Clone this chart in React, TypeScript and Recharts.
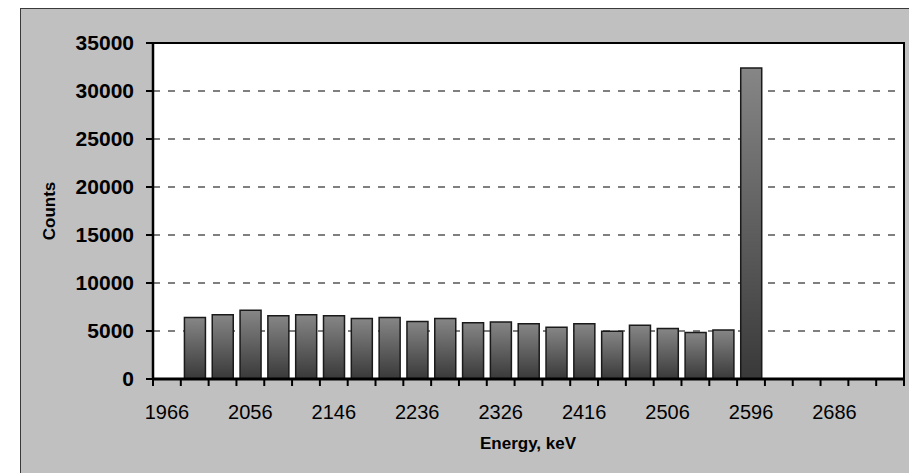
import React from "react";
import { BarChart, Bar, XAxis, YAxis, CartesianGrid, ReferenceArea } from "recharts";

// energy bin centres, keV (30 keV bins)
const energies = [
  "1966", "1996", "2026", "2056", "2086", "2116", "2146", "2176", "2206",
  "2236", "2266", "2296", "2326", "2356", "2386", "2416", "2446", "2476",
  "2506", "2536", "2566", "2596", "2626", "2656", "2686", "2716", "2746",
];

const counts = [
  0, 6400, 6700, 7150, 6600, 6700, 6600, 6300, 6400,
  6000, 6300, 5850, 5950, 5750, 5400, 5750, 4980, 5600,
  5250, 4850, 5100, 32400, 0, 0, 0, 0, 0,
];

const countTicks = [0, 5000, 10000, 15000, 20000, 25000, 30000, 35000];

const data = energies.map((energy, i) => ({ energy, counts: counts[i] }));

const W = 909;
const H = 473;
const margin = { top: 43, right: 5, bottom: 34, left: 93 };
const Y_AXIS_W = 60;
const X_AXIS_H = 60;
const STEP = (W - margin.left - margin.right - Y_AXIS_W) / energies.length;
const FONT = '"Liberation Sans", Arial, sans-serif';

// tick marks sit on bin edges, labels on every third bin centre
const EnergyTick = (props: any) => {
  const { x, y, payload, index } = props;
  const half = STEP / 2;
  const last = index === energies.length - 1;
  return (
    <g>
      <line x1={x - half} x2={x - half} y1={y} y2={y + 7} stroke="#000" strokeWidth={2} />
      {last && <line x1={x + half} x2={x + half} y1={y} y2={y + 7} stroke="#000" strokeWidth={2} />}
      {index % 3 === 0 && (
        <text x={x} y={y + 40} textAnchor="middle" fontSize={20} fontFamily={FONT} fill="#000">
          {payload.value}
        </text>
      )}
    </g>
  );
};

export default function App() {
  return (
    <div style={{ position: "absolute", left: 0, top: 0, width: W, height: H, overflow: "hidden", background: "#fff" }}>
      <div
        style={{
          position: "absolute",
          left: 20,
          top: 8,
          width: 900,
          height: 480,
          background: "#c0c0c0",
          border: "1px solid #3a3a3a",
        }}
      />
      <div style={{ position: "absolute", left: 0, top: 0 }}>
        <BarChart width={W} height={H} data={data} margin={margin} barCategoryGap="13%">
          <defs>
            <linearGradient id="barShade" x1="0" y1="0" x2="0" y2="1">
              <stop offset="0%" stopColor="#868686" />
              <stop offset="100%" stopColor="#393939" />
            </linearGradient>
          </defs>
          <CartesianGrid vertical={false} fill="#fff" stroke="#000" strokeDasharray="7 8" />
          <XAxis
            dataKey="energy"
            interval={0}
            height={X_AXIS_H}
            tickSize={0}
            tickMargin={0}
            tickLine={false}
            axisLine={{ stroke: "#000", strokeWidth: 3 }}
            tick={<EnergyTick />}
          />
          <YAxis
            width={Y_AXIS_W}
            domain={[0, 35000]}
            ticks={countTicks}
            interval={0}
            tickSize={7}
            tickMargin={12}
            axisLine={{ stroke: "#000", strokeWidth: 2.5 }}
            tickLine={{ stroke: "#000", strokeWidth: 2 }}
            tick={{ fontSize: 21, fontWeight: "bold", fontFamily: FONT, fill: "#000" }}
          />
          <ReferenceArea
            x1={energies[0]}
            x2={energies[energies.length - 1]}
            y1={0}
            y2={35000}
            fill="none"
            fillOpacity={0}
            stroke="#000"
            strokeWidth={2}
          />
          <Bar
            dataKey="counts"
            fill="url(#barShade)"
            stroke="#1a1a1a"
            strokeWidth={1.5}
            isAnimationActive={false}
          />
        </BarChart>
      </div>
      <div
        style={{
          position: "absolute",
          left: 428,
          top: 434,
          width: 200,
          lineHeight: "20px",
          textAlign: "center",
          fontFamily: FONT,
          fontWeight: "bold",
          fontSize: 17,
        }}
      >
        Energy, keV
      </div>
      <div
        style={{
          position: "absolute",
          left: 0,
          top: 201,
          width: 100,
          height: 20,
          lineHeight: "20px",
          textAlign: "center",
          fontFamily: FONT,
          fontWeight: "bold",
          fontSize: 17,
          transform: "rotate(-90deg)",
        }}
      >
        Counts
      </div>
    </div>
  );
}
